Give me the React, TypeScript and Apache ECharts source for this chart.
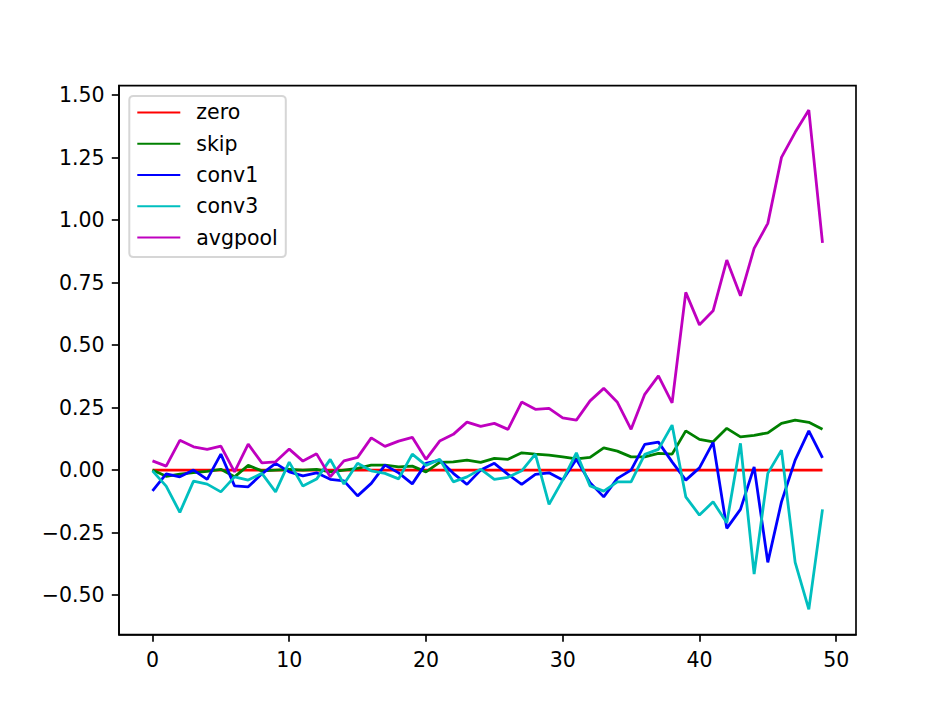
import React, { useEffect, useRef } from "react";
import * as echarts from "echarts";

const steps = [
  0, 1, 2, 3, 4, 5, 6, 7, 8, 9, 10, 11, 12, 13, 14, 15, 16, 17, 18, 19, 20, 21, 22, 23, 24,
  25, 26, 27, 28, 29, 30, 31, 32, 33, 34, 35, 36, 37, 38, 39, 40, 41, 42, 43, 44, 45, 46, 47, 48, 49,
];

const zero = [
  0, 0, 0, 0, 0, 0, 0, 0, 0, 0, 0, 0, 0, 0, 0, 0, 0, 0, 0, 0, 0, 0, 0, 0, 0,
  0, 0, 0, 0, 0, 0, 0, 0, 0, 0, 0, 0, 0, 0, 0, 0, 0, 0, 0, 0, 0, 0, 0, 0, 0,
];

const skip = [
  0, -0.025, -0.016, -0.01, -0.005, 0.003, -0.027, 0.019, -0.003, 0.0,
  0.003, 0.0, 0.003, -0.007, 0.0, 0.007, 0.02, 0.02, 0.013, 0.016,
  -0.007, 0.031, 0.033, 0.04, 0.031, 0.047, 0.043, 0.069, 0.064, 0.06,
  0.053, 0.045, 0.051, 0.089, 0.076, 0.053, 0.053, 0.067, 0.064, 0.157,
  0.123, 0.113, 0.167, 0.133, 0.139, 0.149, 0.187, 0.2, 0.191, 0.163,
];

const conv1 = [
  -0.083, -0.015, -0.027, 0.0, -0.037, 0.064, -0.063, -0.067, -0.015, 0.027,
  -0.007, -0.023, -0.011, -0.037, -0.043, -0.103, -0.053, 0.02, -0.011, -0.055,
  0.027, 0.04, -0.013, -0.057, 0.0, 0.027, -0.017, -0.057, -0.017, -0.011,
  -0.04, 0.043, -0.05, -0.107, -0.033, 0.0, 0.103, 0.112, 0.033, -0.04,
  0.009, 0.111, -0.233, -0.157, 0.013, -0.369, -0.127, 0.04, 0.157, 0.049,
];

const conv3 = [
  -0.003, -0.064, -0.169, -0.044, -0.056, -0.087, -0.027, -0.04, -0.013, -0.087,
  0.032, -0.064, -0.036, 0.043, -0.056, 0.027, -0.003, -0.013, -0.035, 0.064,
  0.019, 0.043, -0.047, -0.027, 0.004, -0.037, -0.029, -0.003, 0.064, -0.137,
  -0.04, 0.069, -0.063, -0.084, -0.047, -0.047, 0.063, 0.083, 0.18, -0.107,
  -0.18, -0.127, -0.211, 0.107, -0.416, -0.013, 0.08, -0.369, -0.557, -0.157,
];

const avgpool = [
  0.037, 0.016, 0.119, 0.093, 0.083, 0.096, -0.007, 0.104, 0.029, 0.033,
  0.084, 0.036, 0.065, -0.027, 0.037, 0.051, 0.129, 0.095, 0.116, 0.131,
  0.043, 0.116, 0.143, 0.192, 0.175, 0.187, 0.163, 0.272, 0.243, 0.247,
  0.209, 0.2, 0.277, 0.327, 0.271, 0.163, 0.303, 0.377, 0.269, 0.711,
  0.581, 0.637, 0.84, 0.697, 0.887, 0.987, 1.251, 1.351, 1.44, 0.909,
];

const xTicks = [0, 10, 20, 30, 40, 50];
const yTicks = [-0.5, -0.25, 0, 0.25, 0.5, 0.75, 1.0, 1.25, 1.5];

const seriesDefs = [
  { name: "zero", data: zero, color: "#ff0000" },
  { name: "skip", data: skip, color: "#008000" },
  { name: "conv1", data: conv1, color: "#0000ff" },
  { name: "conv3", data: conv3, color: "#00bfbf" },
  { name: "avgpool", data: avgpool, color: "#bf00bf" },
];

const FONT = "DejaVu Sans";
const FS = 20.5;

export default function App() {
  const ref = useRef<HTMLDivElement>(null);
  useEffect(() => {
    if (!ref.current) return;
    const chart = echarts.init(ref.current, undefined, { renderer: "svg" });
    const axisCommon = {
      axisLine: { show: true, onZero: false, lineStyle: { color: "#000", width: 1.65 } },
      splitLine: { show: false },
    };
    chart.setOption({
      animation: false,
      backgroundColor: "#ffffff",
      textStyle: { fontFamily: FONT },
      grid: {
        left: 119,
        right: 95,
        top: 85.6,
        bottom: 78.4,
        show: true,
        borderColor: "#000",
        borderWidth: 1.65,
        backgroundColor: "#fff",
        containLabel: false,
      },
      legend: {
        show: true,
        orient: "vertical",
        left: 129.3,
        top: 95.9,
        padding: [6, 8, 9, 7],
        itemWidth: 43,
        itemHeight: 20,
        itemGap: 10.3,
        backgroundColor: "rgba(255,255,255,0.8)",
        borderColor: "rgba(204,204,204,0.8)",
        borderWidth: 2,
        borderRadius: 4,
        itemStyle: { opacity: 0 },
        data: seriesDefs.map((s) => s.name),
        textStyle: {
          fontFamily: FONT,
          fontSize: FS,
          color: "#000",
          padding: [0, 0, 0, 11],
        },
      },
      xAxis: {
        type: "value",
        min: -2.45,
        max: 51.45,
        ...axisCommon,
        axisTick: {
          show: true,
          customValues: xTicks,
          length: 7.2,
          lineStyle: { color: "#000", width: 1.65 },
        },
        axisLabel: {
          customValues: xTicks,
          margin: 14.4,
          fontFamily: FONT,
          fontSize: FS,
          color: "#000",
        },
      },
      yAxis: {
        type: "value",
        min: -0.658,
        max: 1.538,
        ...axisCommon,
        axisTick: {
          show: true,
          customValues: yTicks,
          length: 7.2,
          lineStyle: { color: "#000", width: 1.65 },
        },
        axisLabel: {
          customValues: yTicks,
          margin: 14.4,
          fontFamily: FONT,
          fontSize: FS,
          color: "#000",
          formatter: (v: number) => v.toFixed(2).replace("-", "\u2212"),
        },
      },
      series: seriesDefs.map((s) => ({
        name: s.name,
        type: "line",
        data: steps.map((x, i) => [x, s.data[i]]),
        symbol: "none",
        showSymbol: false,
        color: s.color,
        lineStyle: { color: s.color, width: 2.8 },
        itemStyle: { color: s.color },
      })),
    });
    return () => chart.dispose();
  }, []);
  return (
    <div
      ref={ref}
      style={{ position: "fixed", left: 0, top: 0, width: 951, height: 713 }}
    />
  );
}
